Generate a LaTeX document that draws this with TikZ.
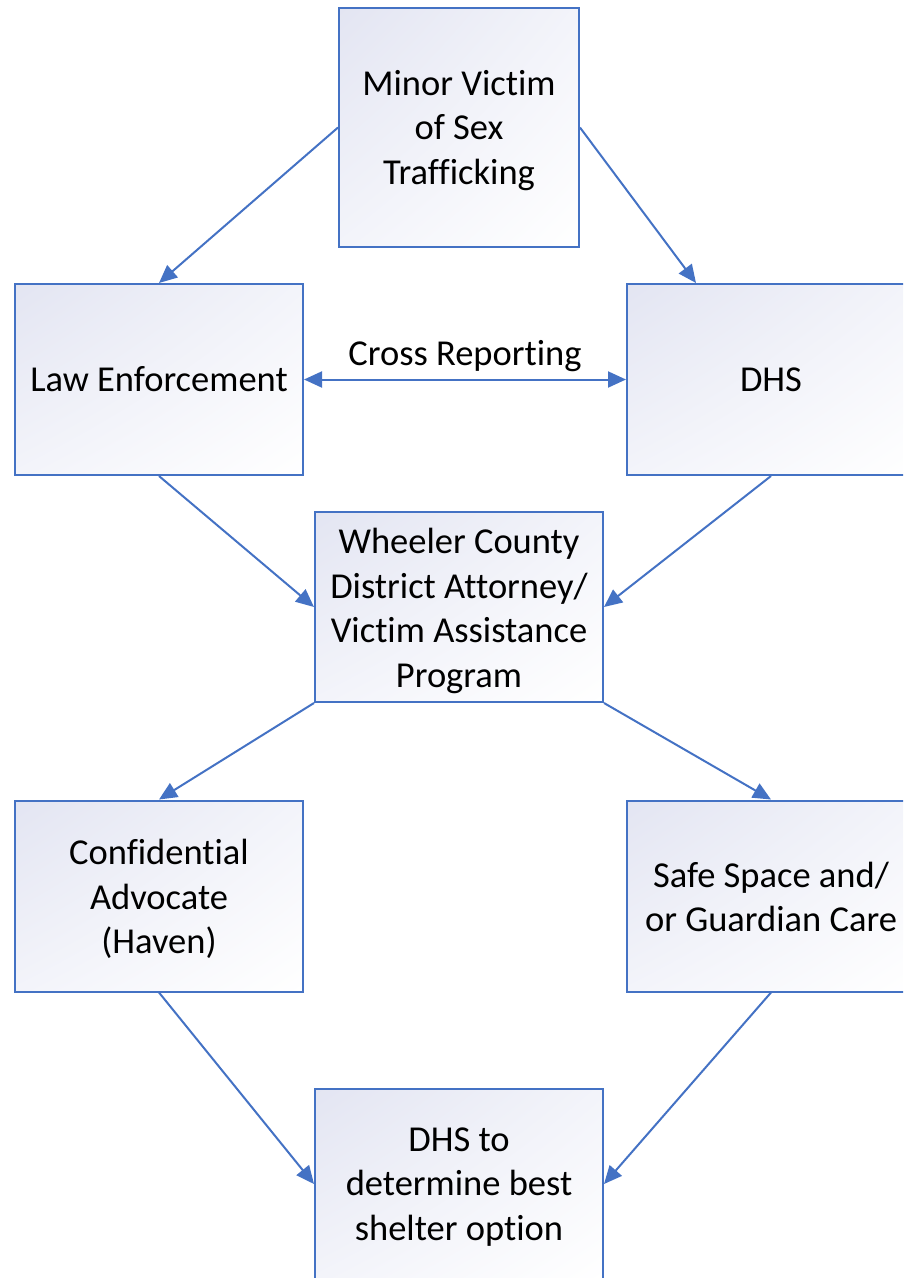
\documentclass[tikz,border=0pt]{standalone}
\usepackage{fontspec}
\setmainfont[Ligatures=NoCommon]{Carlito}
\usetikzlibrary{arrows.meta,calc,shadings}
\definecolor{boxblue}{HTML}{4472C4}
\definecolor{lavA}{HTML}{E3E5F2}
\definecolor{lavB}{HTML}{F3F4FA}
\newcommand{\dropby}[3][286pt]{\raisebox{-#2}[\height][\depth]{\parbox{#1}{\centering #3}}}
\begin{document}
\begin{tikzpicture}[x=1pt,y=-1pt,
  box/.style={draw=boxblue, line width=2pt, upper left=lavA, upper right=lavB, lower left=lavB, lower right=white,
    minimum width=288pt, minimum height=191pt, align=center, inner sep=0pt, font=\fontsize{36.5}{44.5}\selectfont},
  arr/.style={draw=boxblue, line width=2pt, -{Triangle[length=18pt,width=16pt]}},
  darr/.style={draw=boxblue, line width=2pt, {Triangle[length=18pt,width=16pt]}-{Triangle[length=18pt,width=16pt]}},
  lbl/.style={font=\fontsize{36.5}{44.5}\selectfont, inner sep=0pt}]
\useasboundingbox (0,0) rectangle (903,1278);
\clip (0,0) rectangle (903,1278);
\node[box, minimum width=240pt, minimum height=239pt] (minor) at (459,127.5) {\dropby[236pt]{3pt}{Minor Victim\\of Sex\\Trafficking}};
\node[box] (law) at (159,379.5) {Law Enforcement};
\node[box] (dhs) at (771,379.5) {DHS};
\node[box, minimum height=190pt] (wcda) at (459,607) {\dropby{4pt}{Wheeler County\\District Attorney/\\Victim Assistance\\Program}};
\node[box] (conf) at (159,896) {\dropby{3pt}{Confidential\\Advocate\\(Haven)}};
\node[box] (safe) at (771,896) {\dropby{1pt}{Safe Space and/\\or Guardian Care}};
\node[box] (shel) at (459,1184) {\dropby{3pt}{DHS to\\determine best\\shelter option}};
\coordinate (dhsin) at ($(dhs.north west)+(70,0)$);
\draw[arr] (minor.west) -- (law.north);
\draw[arr] (minor.east) -- (dhsin);
\draw[darr] (law.east) -- (dhs.west) node[lbl, midway, yshift=23pt] (crl) {Cross Reporting};
\draw[arr] (law.south) -- (wcda.west);
\draw[arr] (dhs.south) -- (wcda.east);
\draw[arr] (wcda.south west) -- (conf.north);
\draw[arr] (wcda.south east) -- (safe.north);
\draw[arr] (conf.south) -- (shel.west);
\draw[arr] (safe.south) -- (shel.east);
\end{tikzpicture}
\end{document}
